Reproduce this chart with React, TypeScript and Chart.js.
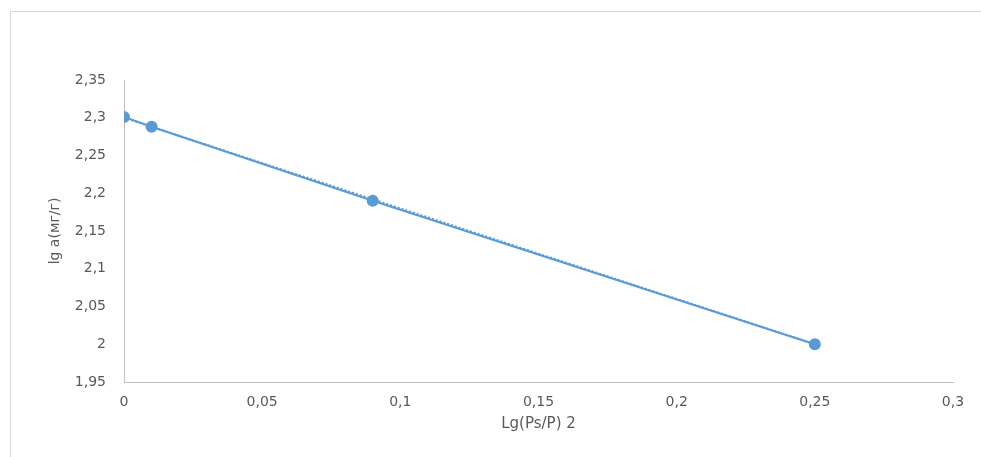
import React, { useEffect, useRef } from "react";
import { Chart, registerables } from "chart.js";

Chart.register(...registerables);

const xValues = [0, 0.01, 0.09, 0.25];
const yValues = [2.301, 2.288, 2.19, 2.0];
const trendX = [0, 0.25];
const trendY = [2.3, 2.0];
const xTitle = "Lg(Ps/P) 2";
const yTitle = "lg a(мг/г)";

const fmt = (v: number | string) =>
  Number(Number(v).toFixed(2)).toString().replace(".", ",");

export default function App() {
  const ref = useRef<HTMLCanvasElement | null>(null);
  useEffect(() => {
    if (!ref.current) return;
    const color = "#5B9BD5";
    const textColor = "#595959";
    const chart = new Chart(ref.current, {
      type: "scatter",
      data: {
        datasets: [
          {
            label: "data",
            data: xValues.map((x, i) => ({ x, y: yValues[i] })),
            showLine: true,
            borderColor: color,
            backgroundColor: color,
            borderWidth: 2,
            pointRadius: 5,
            pointHoverRadius: 5,
            order: 1,
          },
          {
            label: "trend",
            data: trendX.map((x, i) => ({ x, y: trendY[i] })),
            showLine: true,
            borderColor: color,
            borderWidth: 2,
            borderDash: [2, 2],
            pointRadius: 0,
            order: 2,
          },
        ],
      },
      options: {
        animation: false,
        responsive: false,
        maintainAspectRatio: false,
        layout: { padding: { left: 43, right: 28, top: 80, bottom: 20 } },
        plugins: { legend: { display: false }, tooltip: { enabled: false } },
        scales: {
          x: {
            type: "linear",
            min: 0,
            max: 0.3,
            grid: { display: false, drawTicks: false },
            border: { display: true, color: "#bfbfbf", width: 1 },
            ticks: {
              stepSize: 0.05,
              padding: 12,
              color: textColor,
              font: { family: "DejaVu Sans", size: 14 },
              callback: (v: any) => fmt(v),
            },
            title: {
              display: true,
              text: xTitle,
              color: textColor,
              font: { family: "DejaVu Sans", size: 15 },
            },
            afterFit: (s: any) => {
              s.height = 55;
            },
          },
          y: {
            type: "linear",
            min: 1.95,
            max: 2.35,
            grid: { display: false, drawTicks: false },
            border: { display: true, color: "#bfbfbf", width: 1 },
            ticks: {
              stepSize: 0.05,
              padding: 18,
              color: textColor,
              font: { family: "DejaVu Sans", size: 14 },
              callback: (v: any) => fmt(v),
            },
            title: {
              display: true,
              text: yTitle,
              color: textColor,
              font: { family: "DejaVu Sans", size: 14 },
            },
            afterFit: (s: any) => {
              s.width = 81;
            },
          },
        },
      },
    });
    return () => chart.destroy();
  }, []);

  return (
    <div style={{ position: "absolute", left: 0, top: 0, width: 981, height: 457, background: "#fff" }}>
      <div
        style={{
          position: "absolute",
          left: 10,
          top: 11,
          width: 971,
          height: 446,
          borderLeft: "1px solid #d9d9d9",
          borderTop: "1px solid #d9d9d9",
          boxSizing: "border-box",
        }}
      />
      <canvas ref={ref} width={981} height={457} style={{ position: "absolute", left: 0, top: 0 }} />
    </div>
  );
}
